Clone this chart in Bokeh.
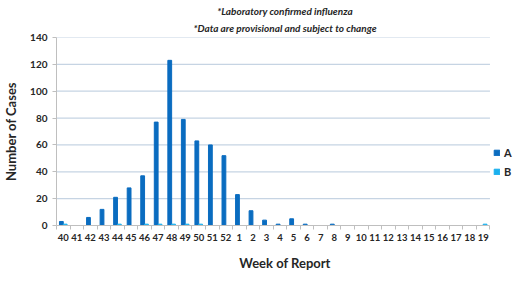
from bokeh.plotting import figure
from bokeh.models import ColumnDataSource, FixedTicker, Legend, LegendItem, Title, Range1d
from bokeh.embed import file_html
from bokeh.resources import INLINE

weeks = ["40", "41", "42", "43", "44", "45", "46", "47", "48", "49", "50", "51", "52",
         "1", "2", "3", "4", "5", "6", "7", "8", "9", "10", "11", "12", "13", "14", "15",
         "16", "17", "18", "19"]
flu_a = [3, 0, 6, 12, 21, 28, 37, 77, 123, 79, 63, 60, 52,
         23, 11, 4, 1, 5, 1, 0, 1, 0, 0, 0, 0, 0, 0, 0, 0, 0, 0, 0]
flu_b = [1, 0, 0, 0, 1, 0, 1, 1, 1, 1, 1, 0, 0,
         0, 0, 0, 0, 0, 0, 0, 0, 0, 0, 0, 0, 0, 0, 0, 0, 0, 0, 1]
y_ticks = [0, 20, 40, 60, 80, 100, 120, 140]

FONT = "Lato"
TXT = "#262626"
n = len(weeks)
xs = list(range(n))
src = ColumnDataSource(dict(xa=[i - 0.14 for i in xs], xb=[i + 0.14 for i in xs], a=flu_a, b=flu_b))

W, H, LEFT = 513, 282, 47
# frame runs to the right edge; the category area covers most of it
x_end = -0.5 + n * (W - LEFT) / 442
p = figure(width=W, height=H, output_backend="svg", toolbar_location=None,
           x_range=Range1d(-0.5, x_end), y_range=Range1d(0, 140),
           min_border_left=LEFT, min_border_right=0, min_border_top=37, min_border_bottom=57)
p.outline_line_color = None
p.xgrid.grid_line_color = None
p.ygrid.grid_line_color = None

# horizontal gridlines limited to the category area
p.segment(x0=[-0.5] * (len(y_ticks) - 1), x1=[n - 0.5] * (len(y_ticks) - 1),
          y0=y_ticks[1:], y1=y_ticks[1:], line_color="#C6D4E3", line_width=1.2)

ra = p.vbar(x="xa", top="a", width=0.28, source=src, color="#0A6CC0")
rb = p.vbar(x="xb", top="b", width=0.28, source=src, color="#1AB0EE")

p.xaxis.bounds = (-0.5, n - 0.5)
p.xaxis.ticker = FixedTicker(ticks=xs, minor_ticks=[i - 0.5 for i in xs] + [n - 0.5])
p.xaxis.major_label_overrides = {i: w for i, w in enumerate(weeks)}
p.xaxis.major_tick_line_color = None
p.xaxis.minor_tick_line_color = "#BFBFBF"
p.xaxis.minor_tick_out = 4
p.xaxis.minor_tick_in = 0
p.xaxis.axis_line_color = "#BFBFBF"
p.xaxis.major_label_text_font = FONT
p.xaxis.major_label_text_font_style = "bold"
p.xaxis.major_label_text_font_size = "9.5px"
p.xaxis.major_label_text_color = TXT
p.xaxis.major_label_standoff = 2
p.xaxis.axis_label = "Week of Report"
p.xaxis.axis_label_text_font = FONT
p.xaxis.axis_label_text_font_style = "bold"
p.xaxis.axis_label_text_font_size = "13px"
p.xaxis.axis_label_text_color = TXT
p.xaxis.axis_label_standoff = 11

p.yaxis.ticker = FixedTicker(ticks=y_ticks)
p.yaxis.minor_tick_line_color = None
p.yaxis.major_tick_line_color = "#BFBFBF"
p.yaxis.major_tick_out = 4
p.yaxis.major_tick_in = 0
p.yaxis.axis_line_color = "#BFBFBF"
p.yaxis.major_label_text_font = FONT
p.yaxis.major_label_text_font_style = "bold"
p.yaxis.major_label_text_font_size = "10px"
p.yaxis.major_label_text_color = TXT
p.yaxis.major_label_standoff = 5
p.yaxis.axis_label = "Number of Cases"
p.yaxis.axis_label_text_font = FONT
p.yaxis.axis_label_text_font_style = "bold"
p.yaxis.axis_label_text_font_size = "13px"
p.yaxis.axis_label_text_color = TXT
p.yaxis.axis_label_standoff = 8

t2 = Title(text="*Data are provisional and subject to change", align="center", offset=-7,
           text_font=FONT, text_font_style="bold italic", text_font_size="10px", text_color=TXT,
           standoff=7)
t1 = Title(text="*Laboratory confirmed influenza", align="center", offset=-7,
           text_font=FONT, text_font_style="bold italic", text_font_size="10px", text_color=TXT,
           standoff=0)
p.add_layout(t2, "above")
p.add_layout(t1, "above")

legend = Legend(items=[LegendItem(label="A", renderers=[ra]), LegendItem(label="B", renderers=[rb])],
                location=(437, 47),
                border_line_color=None, background_fill_alpha=0, padding=0, margin=0,
                glyph_width=7, glyph_height=7, label_standoff=4, spacing=6,
                label_text_font=FONT, label_text_font_style="bold", label_text_font_size="11px",
                label_text_color=TXT)
p.add_layout(legend, "center")

open("out.html", "w").write(file_html(p, INLINE))
